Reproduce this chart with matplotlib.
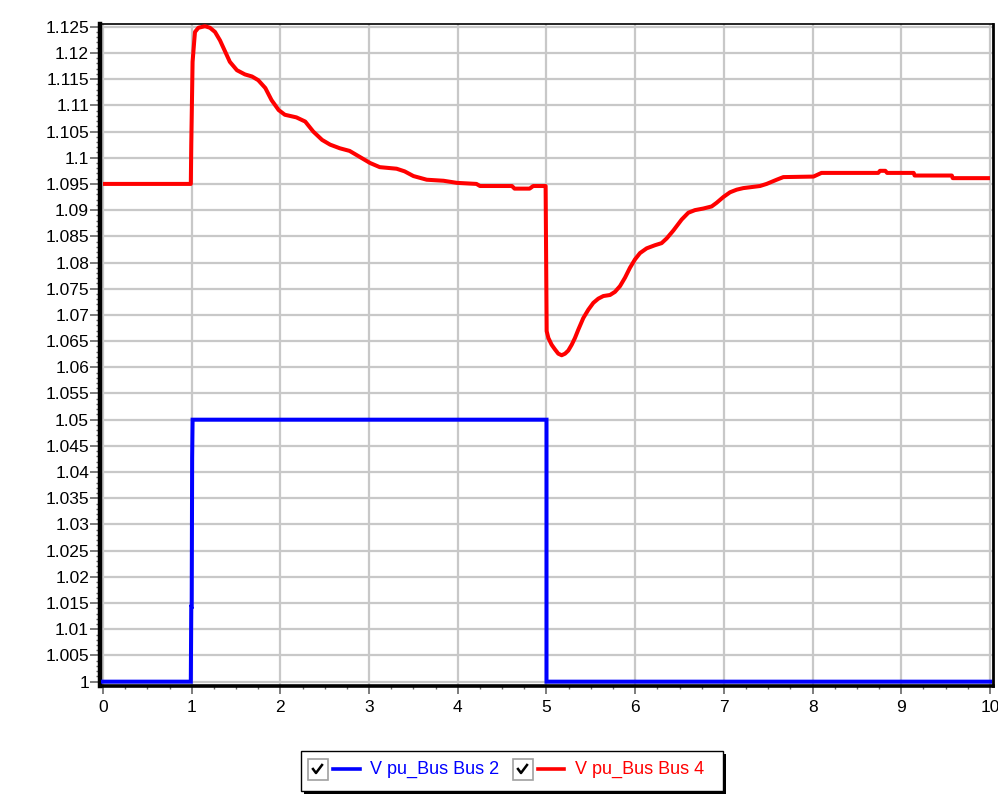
import matplotlib
matplotlib.use("Agg")
import matplotlib.pyplot as plt
from matplotlib.ticker import MultipleLocator, FuncFormatter
from matplotlib.patches import Rectangle
from matplotlib.lines import Line2D

plt.rcParams['font.family'] = ['Liberation Sans', 'DejaVu Sans']

# ---- data ----
bus2_t = [0.0, 0.99, 0.995, 1.0, 1.005, 1.01, 5.0, 5.0, 10.0]
bus2_v = [1.0, 1.0, 1.0143, 1.0143, 1.0427, 1.05, 1.05, 1.0, 1.0]

bus4_t = [0.0, 0.99, 0.995, 1.01, 1.03, 1.037, 1.075, 1.15, 1.206, 1.263, 1.319,
          1.43, 1.51, 1.60, 1.68, 1.75, 1.83, 1.90, 1.98, 2.05, 2.18, 2.28, 2.37,
          2.47, 2.56, 2.67, 2.78, 2.88, 3.01, 3.12, 3.31, 3.40, 3.50, 3.65, 3.84,
          3.99, 4.21, 4.25, 4.61, 4.64, 4.81, 4.85, 4.99,
          5.002, 5.021, 5.058, 5.096, 5.133, 5.171, 5.209, 5.246, 5.284, 5.321,
          5.359, 5.415, 5.472, 5.528, 5.584, 5.641, 5.716, 5.772, 5.829, 5.885,
          5.941, 5.998, 6.054, 6.129, 6.223, 6.298, 6.355, 6.430, 6.524, 6.599,
          6.674, 6.768, 6.862, 6.918, 6.994, 7.069, 7.144, 7.219, 7.407, 7.482,
          7.595, 7.670, 8.01, 8.10, 8.74, 8.76, 8.82, 8.84, 9.14, 9.15, 9.57,
          9.58, 10.0]
bus4_v = [1.095, 1.095, 1.1025, 1.1183, 1.1226, 1.1240, 1.1248, 1.1251, 1.1248,
          1.1240, 1.1224, 1.1183, 1.1167, 1.1159, 1.1155, 1.1148, 1.1133, 1.1110,
          1.1091, 1.1082, 1.1077, 1.1069, 1.1050, 1.1034, 1.1025, 1.1018, 1.1013,
          1.1003, 1.0990, 1.0982, 1.0979, 1.0974, 1.0965, 1.0958, 1.0956, 1.0952,
          1.0950, 1.0946, 1.0946, 1.0941, 1.0941, 1.0946, 1.0946,
          1.0669, 1.0656, 1.0643, 1.0634, 1.0626, 1.0623, 1.0626, 1.0632, 1.0643,
          1.0656, 1.0672, 1.0694, 1.0710, 1.0723, 1.0731, 1.0736, 1.0738, 1.0744,
          1.0755, 1.0771, 1.0790, 1.0806, 1.0818, 1.0827, 1.0833, 1.0837, 1.0846,
          1.0861, 1.0882, 1.0895, 1.0900, 1.0903, 1.0907, 1.0914, 1.0925, 1.0934,
          1.0939, 1.0942, 1.0946, 1.0950, 1.0958, 1.0963, 1.0964, 1.0971, 1.0971,
          1.0975, 1.0975, 1.0971, 1.0971, 1.0966, 1.0966, 1.0961, 1.0961]

x_ticks = list(range(0, 11))
y_major = 0.005
legend_labels = ["V pu_Bus Bus 2", "V pu_Bus Bus 4"]
colors = ["#0000ff", "#ff0000"]

# ---- figure ----
W, H = 998, 809
fig = plt.figure(figsize=(W / 100, H / 100), dpi=100)
L, R, T, B = 99.5, 993, 24, 685.5
ax = fig.add_axes([L / W, 1 - B / H, (R - L) / W, (B - T) / H])

ax.plot(bus2_t, bus2_v, color=colors[0], lw=2.9, solid_joinstyle='miter', zorder=3)
ax.plot(bus4_t, bus4_v, color=colors[1], lw=2.9, solid_joinstyle='round',
        solid_capstyle='butt', zorder=3)

ax.set_xlim(-0.0395, 10.034)
ax.set_ylim(0.99927, 1.12552)
ax.set_xticks(x_ticks)
ax.xaxis.set_minor_locator(MultipleLocator(0.25))
ax.yaxis.set_major_locator(MultipleLocator(y_major))
ax.yaxis.set_minor_locator(MultipleLocator(0.001))
ax.yaxis.set_major_formatter(FuncFormatter(lambda v, p: ('%.3f' % v).rstrip('0').rstrip('.')))

ax.grid(True, which='major', color='#c8c8c8', lw=1.6)
ax.set_axisbelow(True)

ax.tick_params(axis='both', which='major', labelsize=12.5, color='#666666',
               width=1.2, labelcolor='black')
ax.tick_params(axis='y', which='major', length=7, pad=0.5)
ax.tick_params(axis='x', which='major', length=5.5, pad=5)
ax.tick_params(axis='y', which='minor', color='#666666', length=3, width=1)
ax.tick_params(axis='x', which='minor', color='#666666', length=2.5, width=1)

for side, lw in [('left', 3.2), ('bottom', 2.6), ('top', 1.2), ('right', 2.0)]:
    ax.spines[side].set_linewidth(lw)
    ax.spines[side].set_color('black')

# ---- legend (drawn like the application's legend box) ----
def fx(x):
    return x / W

def fy(y):
    return 1 - y / H

# shadow
fig.patches.append(Rectangle((fx(304), fy(794)), fx(723) - fx(301), fy(751) - fy(791),
                             transform=fig.transFigure, facecolor='black', edgecolor='none', zorder=1))
fig.patches.append(Rectangle((fx(301), fy(791)), fx(723) - fx(301), fy(751) - fy(791),
                             transform=fig.transFigure, facecolor='white', edgecolor='black',
                             lw=1, zorder=2))

entries = [(308, 333, 360, 370), (513, 538, 564, 575)]
for (cb, l0, l1, tx), lab, col in zip(entries, legend_labels, colors):
    fig.patches.append(Rectangle((fx(cb), fy(780)), fx(cb + 20) - fx(cb), fy(759) - fy(780),
                                 transform=fig.transFigure, facecolor='white',
                                 edgecolor='#a0a0a0', lw=1.2, zorder=3))
    fig.lines.append(Line2D([fx(cb + 5), fx(cb + 8), fx(cb + 14)],
                            [fy(769), fy(773), fy(765)], transform=fig.transFigure,
                            color='black', lw=1.8, zorder=4))
    fig.lines.append(Line2D([fx(l0), fx(l1)], [fy(769), fy(769)], transform=fig.transFigure,
                            color=col, lw=2.6, zorder=4))
    fig.text(fx(tx), fy(769), lab, color=col, fontsize=13, va='center', ha='left', zorder=5)

fig.savefig("out.png", dpi=100)
